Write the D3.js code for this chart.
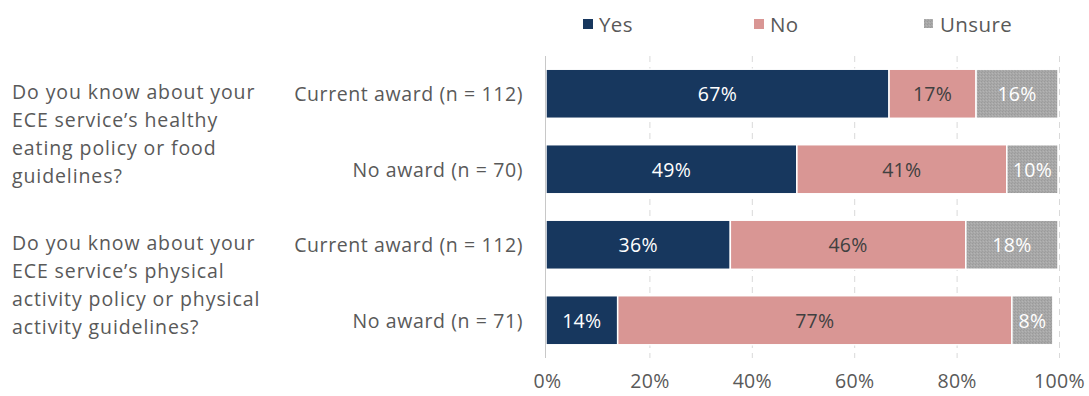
<!DOCTYPE html>
<html>
<head>
<meta charset="utf-8">
<script src="https://cdn.jsdelivr.net/npm/d3@7"></script>
<style>
  html, body { margin: 0; padding: 0; background: #ffffff; }
  svg { display: block; }
  text { font-family: "Open Sans", "Noto Sans", sans-serif; }
</style>
</head>
<body>
<svg id="chart" width="1089" height="396"></svg>
<script>
// Survey responses, percent of respondents
const groups = [
  "Current award (n = 112)",
  "No award (n = 70)",
  "Current award (n = 112)",
  "No award (n = 71)"
];
const yesValues = [67, 49, 36, 14];
const noValues = [17, 41, 46, 77];
const unsureValues = [16, 10, 18, 8];

const seriesNames = ["Yes", "No", "Unsure"];
const seriesColors = ["#17375e", "#d99694", "#a6a6a6"];
const labelColors = ["#ffffff", "#404040", "#ffffff"];

const questionLines = [
  ["Do you know about your", "ECE service\u2019s healthy", "eating policy or food", "guidelines?"],
  ["Do you know about your", "ECE service\u2019s physical", "activity policy or physical", "activity guidelines?"]
];

const tickValues = [0, 20, 40, 60, 80, 100];

const svg = d3.select("#chart");
const textColor = "#595959";
const fontSize = 19.5;
const spacing = "0.6px";

const rows = groups.map((g, i) => ({
  index: i,
  group: g,
  values: [yesValues[i], noValues[i], unsureValues[i]]
}));

const x = d3.scaleLinear().domain([0, 100]).range([546, 1058]);
const y = d3.scaleBand()
  .domain(d3.range(groups.length))
  .range([56, 358])
  .paddingInner(0.35)
  .paddingOuter(0.175);

// Texture for the "Unsure" fill
const defs = svg.append("defs");
const pat = defs.append("pattern")
  .attr("id", "unsureTex")
  .attr("width", 3).attr("height", 3)
  .attr("patternUnits", "userSpaceOnUse");
pat.append("rect").attr("width", 3).attr("height", 3).attr("fill", "#a8a8a8");
pat.append("rect").attr("x", 0).attr("y", 0).attr("width", 1).attr("height", 1).attr("fill", "#9a9a9a");
pat.append("rect").attr("x", 2).attr("y", 1).attr("width", 1).attr("height", 1).attr("fill", "#b4b4b4");
pat.append("rect").attr("x", 1).attr("y", 2).attr("width", 1).attr("height", 1).attr("fill", "#9e9e9e");
const fills = [seriesColors[0], seriesColors[1], "url(#unsureTex)"];

// Gridlines
svg.append("g")
  .selectAll("line")
  .data(tickValues.filter(t => t > 0))
  .join("line")
  .attr("x1", d => x(d) + 1.5).attr("x2", d => x(d) + 1.5)
  .attr("y1", y.range()[0]).attr("y2", y.range()[1])
  .attr("stroke", "#d9d9d9")
  .attr("stroke-width", 1)
  .attr("stroke-dasharray", "6,5");

// Stacked bars
const barG = svg.append("g");
rows.forEach(r => {
  let acc = 0;
  r.values.forEach((v, k) => {
    const x0 = acc, x1 = acc + v;
    acc = x1;
    barG.append("rect")
      .attr("x", x(x0))
      .attr("y", y(r.index))
      .attr("width", x(x1) - x(x0))
      .attr("height", y.bandwidth())
      .attr("fill", fills[k])
      .attr("stroke", "#ffffff")
      .attr("stroke-width", 1.5);
    barG.append("text")
      .attr("x", x((x0 + x1) / 2))
      .attr("y", y(r.index) + y.bandwidth() / 2)
      .attr("text-anchor", "middle")
      .attr("dominant-baseline", "central")
      .attr("font-size", fontSize)
      .attr("letter-spacing", "0.3px")
      .attr("fill", labelColors[k])
      .text(v + "%");
  });
});

// Category axis line
svg.append("line")
  .attr("x1", x(0) - 0.5).attr("x2", x(0) - 0.5)
  .attr("y1", y.range()[0]).attr("y2", y.range()[1])
  .attr("stroke", "#c8c8c8")
  .attr("stroke-width", 1);

// Value axis labels
const xAxis = d3.axisBottom(x)
  .tickValues(tickValues)
  .tickFormat(d => d + "%")
  .tickSize(0)
  .tickPadding(0);
const xg = svg.append("g").attr("transform", "translate(1,377)").call(xAxis);
xg.select(".domain").remove();
xg.selectAll("text")
  .attr("font-family", "'Open Sans', sans-serif")
  .attr("font-size", fontSize)
  .attr("letter-spacing", "0.3px")
  .attr("fill", textColor)
  .attr("dy", "0.55em");

// Group labels
svg.append("g")
  .selectAll("text")
  .data(rows)
  .join("text")
  .attr("x", 523)
  .attr("y", d => y(d.index) + y.bandwidth() / 2)
  .attr("text-anchor", "end")
  .attr("dominant-baseline", "central")
  .attr("font-size", fontSize)
  .attr("letter-spacing", spacing)
  .attr("fill", textColor)
  .text(d => d.group);

// Question labels
const qg = svg.append("g");
questionLines.forEach((lines, qi) => {
  const top = y(qi * 2) + y.bandwidth() / 2 - 2;
  lines.forEach((line, li) => {
    qg.append("text")
      .attr("x", 12)
      .attr("y", top + li * 28)
      .attr("dominant-baseline", "central")
      .attr("font-size", fontSize)
      .attr("letter-spacing", "0.9px")
      .attr("fill", textColor)
      .text(line);
  });
});

// Legend
const legendX = [583, 754, 924];
const legend = svg.append("g");
seriesNames.forEach((name, k) => {
  legend.append("rect")
    .attr("x", legendX[k]).attr("y", 19)
    .attr("width", k === 2 ? 9 : 10).attr("height", k === 2 ? 9 : 10)
    .attr("fill", fills[k]);
  legend.append("text")
    .attr("x", legendX[k] + 16)
    .attr("y", 24)
    .attr("dominant-baseline", "central")
    .attr("font-size", 20.5)
    .attr("letter-spacing", "0.4px")
    .attr("fill", textColor)
    .text(name);
});
</script>
</body>
</html>
